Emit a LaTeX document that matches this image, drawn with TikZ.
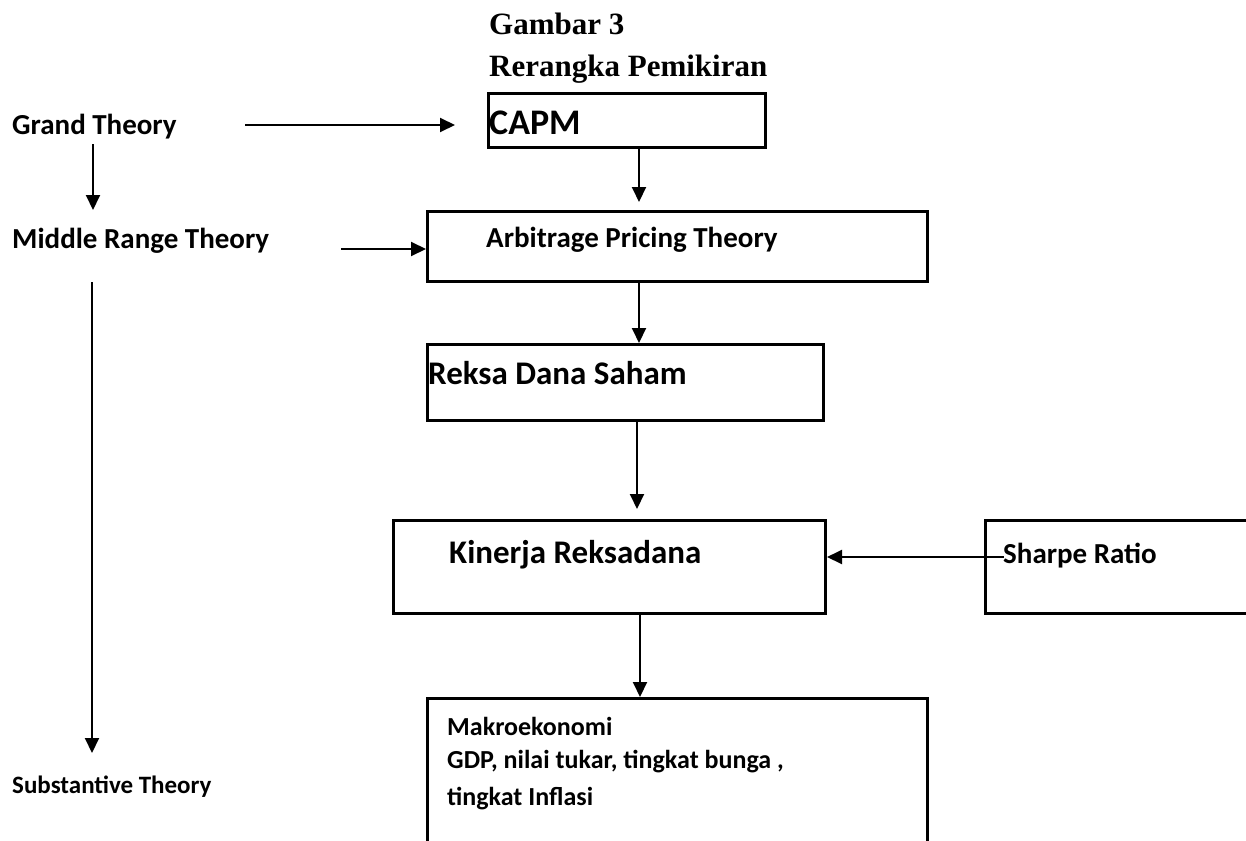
\documentclass[tikz,border=0pt]{standalone}
\usepackage{fontspec}
\setmainfont{Carlito}
\newfontfamily\titlefont{Liberation Serif}
\usetikzlibrary{arrows.meta}
\tikzset{
  box/.style={draw, line width=3pt, inner sep=0pt, anchor=north west},
  lbl/.style={anchor=base west, inner sep=0pt, font=\bfseries\fontsize{29}{34}\selectfont},
  bigl/.style={lbl, font=\bfseries\fontsize{36}{40}\selectfont},
  midl/.style={lbl, font=\bfseries\fontsize{33}{38}\selectfont},
  smalll/.style={lbl, font=\bfseries\fontsize{26}{30}\selectfont},
  subl/.style={lbl, font=\bfseries\fontsize{25}{30}\selectfont},
  ttl/.style={anchor=base west, inner sep=0pt, font=\titlefont\bfseries\fontsize{31}{36}\selectfont},
  arr/.style={line width=2pt, -{Triangle[length=15pt,width=14pt]}}
}
\begin{document}
\begin{tikzpicture}[x=1pt,y=-1pt]
\useasboundingbox (0,0) rectangle (1246,840);
\clip (0,0) rectangle (1246,840);
% titles
\node[ttl] (t1) at (489,35) {Gambar 3};
\node[ttl] (t2) at (489,77) {Rerangka Pemikiran};
% left labels
\node[lbl] (grand) at (12,135) {Grand Theory};
\node[lbl] (middle) at (12,248) {Middle Range Theory};
\node[subl] (subst) at (12,793) {Substantive Theory};
% boxes
\node[box, minimum width=277pt, minimum height=54pt] (capm) at (487,92) {};
\node[box, minimum width=500pt, minimum height=70pt] (apt) at (426,210) {};
\node[box, minimum width=396pt, minimum height=76pt] (reksa) at (426,343) {};
\node[box, minimum width=432pt, minimum height=93pt] (kin) at (392,519) {};
\node[box, minimum width=280pt, minimum height=93pt] (sharpe) at (984,519) {};
\node[box, minimum width=500pt, minimum height=170pt] (makro) at (426,697) {};
% box texts
\node[bigl] (capmT) at (489,134) {CAPM};
\node[lbl] (aptT) at (486,247) {Arbitrage Pricing Theory};
\node[midl] (reksaT) at (428,384) {Reksa Dana Saham};
\node[midl] (kinT) at (449,563) {Kinerja Reksadana};
\node[lbl] (sharpeT) at (1003,563) {Sharpe Ratio};
\node[smalll] (mk1) at (447,735) {Makroekonomi};
\node[smalll] (mk2) at (447,768) {GDP, nilai tukar, tingkat bunga ,};
\node[smalll] (mk3) at (447,805) {tingkat Inflasi};
% coordinates
\coordinate (g1) at (245,125);
\coordinate (g2) at (455,125);
\coordinate (v1) at (93,144);
\coordinate (v2) at (93,210);
\coordinate (m1) at (341,249);
\coordinate (l1) at (92,282);
\coordinate (l2) at (92,753);
\coordinate (c1) at (639,0);
\coordinate (c2) at (637,0);
\coordinate (c3) at (640,0);
\coordinate (s1) at (1004,557);
% arrows
\draw[arr] (g1) -- (g2);
\draw[arr] (v1) -- (v2);
\draw[arr] (m1) -- (m1 -| apt.west);
\draw[arr] (l1) -- (l2);
\draw[arr, shorten >=8pt] (capm.south -| c1) -- (c1 |- apt.north);
\draw[arr] (apt.south -| c1) -- (c1 |- reksa.north);
\draw[arr, shorten >=10pt] (reksa.south -| c2) -- (c2 |- kin.north);
\draw[arr] (s1) -- (s1 -| kin.east);
\draw[arr] (kin.south -| c3) -- (c3 |- makro.north);
\end{tikzpicture}
\end{document}
